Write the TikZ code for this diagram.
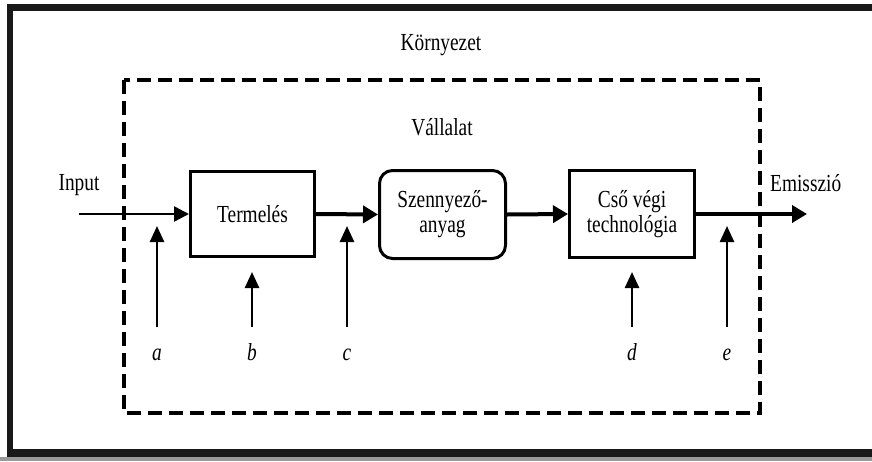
\documentclass[tikz,border=0pt]{standalone}
\usepackage{fontspec}
\setmainfont[FakeStretch=0.79]{Liberation Serif}
\usetikzlibrary{arrows.meta}
\tikzset{
  box/.style={draw, line width=3pt, inner sep=0pt, align=center, font=\fontsize{24.5}{25}\selectfont},
  lbl/.style={inner sep=0pt, font=\fontsize{24.5}{25}\selectfont},
  ilbl/.style={inner sep=0pt, font=\fontsize{24.5}{25}\selectfont\itshape},
  thinarrow/.style={line width=2.5pt, -{Triangle[length=15pt,width=15pt]}},
  thickarrow/.style={line width=4pt, -{Triangle[length=15pt,width=17pt]}},
  varrow/.style={line width=2.5pt, -{Triangle[length=16pt,width=14pt]}},
  dashbox/.style={line width=4pt, dash pattern=on 14pt off 7pt}
}
\begin{document}
\begin{tikzpicture}[x=1pt,y=-1pt]
\useasboundingbox (0,0) rectangle (872,461);
% outer frame
\fill[black!40] (0,457) rectangle (872,461);
\fill[black!90] (7,4) rectangle (872,11);
\fill[black!90] (7,4) rectangle (13,457);
\fill[black!90] (7,449) rectangle (872,457);
% dashed company boundary
\draw[dashbox] (124,80) rectangle (760,413);
% titles
\node[lbl, anchor=base] (env) at (441,50) {Környezet};
\node[lbl, anchor=base] (comp) at (442,135) {Vállalat};
\node[lbl, anchor=base] (inlbl) at (79,190) {Input};
\node[lbl, anchor=base west] (emlbl) at (770,191) {Emisszió};
% process boxes
\node[box, minimum width=124pt, minimum height=85pt] (T) at (252.5,214) {Termelés};
\node[box, rounded corners=13pt, minimum width=126pt, minimum height=88pt] (S) at (442.5,214.5) {Szennyező-\\anyag};
\node[box, minimum width=125pt, minimum height=87pt] (C) at (632,214) {Cső végi\\technológia};
% flow
\coordinate (in) at (79,214);
\coordinate (out) at (807,214);
\draw[thinarrow] (in) -- (T.west);
\draw[thickarrow] (T.east) -- (S.west);
\draw[thickarrow] (S.east) -- (C.west);
\draw[thickarrow] (C.east) -- (out);
% intervention points
\node[ilbl, anchor=base] (la) at (157,360) {a};
\node[ilbl, anchor=base] (lb) at (252,360) {b};
\node[ilbl, anchor=base] (lc) at (347,360) {c};
\node[ilbl, anchor=base] (ld) at (632,360) {d};
\node[ilbl, anchor=base] (le) at (727,360) {e};
\coordinate (a0) at (157,327); \coordinate (a1) at (157,226);
\coordinate (b0) at (252,327); \coordinate (b1) at (252,272);
\coordinate (c0) at (347,327); \coordinate (c1) at (347,226);
\coordinate (d0) at (632,327); \coordinate (d1) at (632,272);
\coordinate (e0) at (727,327); \coordinate (e1) at (727,226);
\draw[varrow] (a0) -- (a1);
\draw[varrow] (b0) -- (b1);
\draw[varrow] (c0) -- (c1);
\draw[varrow] (d0) -- (d1);
\draw[varrow] (e0) -- (e1);
\end{tikzpicture}
\end{document}
